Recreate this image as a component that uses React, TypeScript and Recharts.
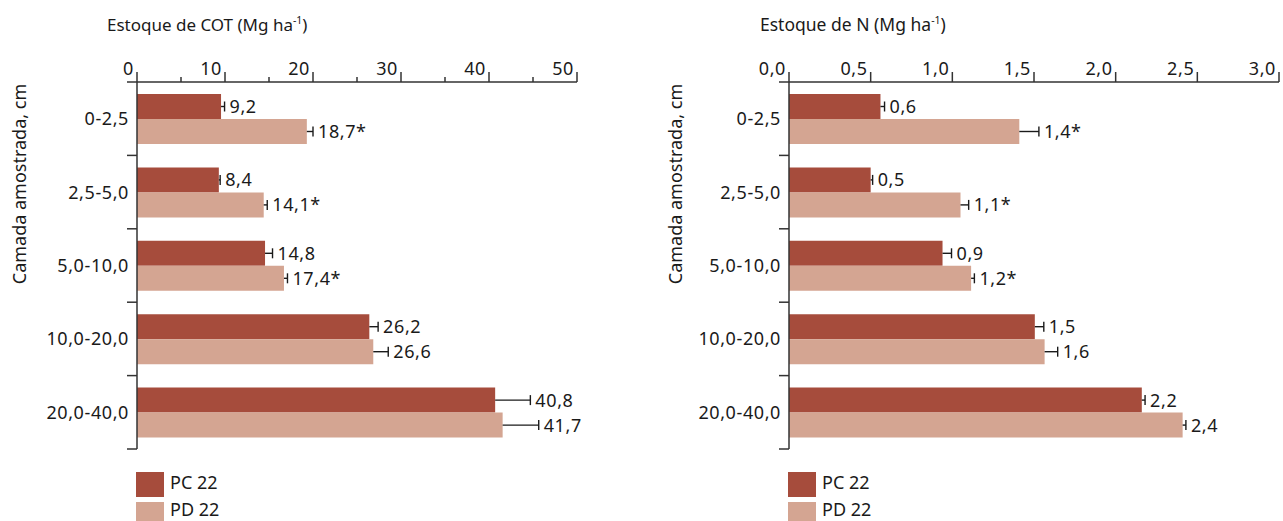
import React from 'react';
import { BarChart, Bar, XAxis, YAxis } from 'recharts';

// depth layers (sampled layer, cm)
const depths = ['0-2,5', '2,5-5,0', '5,0-10,0', '10,0-20,0', '20,0-40,0'];

// Estoque de COT (Mg ha-1)
const cotPC = [9.55, 9.3, 14.55, 26.4, 40.7];
const cotPD = [19.3, 14.4, 16.7, 26.85, 41.55];
const cotPCErr = [0.4, 0.15, 0.85, 1.0, 4.0];
const cotPDErr = [0.7, 0.4, 0.4, 1.7, 4.1];
const cotPCLabels = ['9,2', '8,4', '14,8', '26,2', '40,8'];
const cotPDLabels = ['18,7*', '14,1*', '17,4*', '26,6', '41,7'];
const cotTicks = [0, 5, 10, 15, 20, 25, 30, 35, 40, 45, 50];

// Estoque de N (Mg ha-1)
const nPC = [0.56, 0.5, 0.94, 1.505, 2.16];
const nPD = [1.41, 1.05, 1.115, 1.565, 2.41];
const nPCErr = [0.025, 0.012, 0.055, 0.055, 0.02];
const nPDErr = [0.12, 0.05, 0.02, 0.08, 0.02];
const nPCLabels = ['0,6', '0,5', '0,9', '1,5', '2,2'];
const nPDLabels = ['1,4*', '1,1*', '1,2*', '1,6', '2,4'];
const nTicks = [0, 0.5, 1, 1.5, 2, 2.5, 3];

const PC_COLOR = '#a64c3c';
const PD_COLOR = '#d4a592';
const INK = '#1a1a1a';
const AXIS = '#333';
const FONT = '"Noto Sans", sans-serif';
const NUM_SPACING = 0.6;

const comma = (v: number, digits: number) => v.toFixed(digits).replace('.', ',');

// error whisker (right side only) + value label after it
const whiskerLabel = (errs: number[], texts: string[]) => (props: any) => {
  const { x, y, width, height, index, value } = props;
  const w = Number(width);
  const v = Number(value);
  if (!v || !w) return null;
  const ppu = w / v;
  const x0 = Number(x) + w;
  const x1 = x0 + errs[index] * ppu;
  const cy = Number(y) + Number(height) / 2;
  return (
    <g>
      <line x1={x0} x2={x1} y1={cy} y2={cy} stroke={INK} strokeWidth={1.4} />
      <line x1={x1} x2={x1} y1={cy - 5} y2={cy + 5} stroke={INK} strokeWidth={1.4} />
      <text x={x1 + 5} y={cy} dy="0.36em" fontSize={18} fill={INK} fontFamily={FONT} letterSpacing={NUM_SPACING}>
        {texts[index]}
      </text>
    </g>
  );
};

const makeXTick = (isMajor: (v: number) => boolean, fmt: (v: number) => string) => (props: any) => {
  const { x, y, payload } = props;
  const v = payload.value;
  const major = isMajor(v);
  return (
    <g>
      <line x1={x} x2={x} y1={y} y2={y - (major ? 10 : 5)} stroke={AXIS} strokeWidth={1.5} />
      {major && (
        <text x={x - 3} y={y - 7} textAnchor="end" fontSize={18} fill={INK} fontFamily={FONT} letterSpacing={NUM_SPACING}>
          {fmt(v)}
        </text>
      )}
    </g>
  );
};

const YTick = (props: any) => {
  const { x, y, payload, index } = props;
  const off = payload.offset || 36.7;
  return (
    <g>
      <line x1={x - 10} x2={x} y1={y - off} y2={y - off} stroke={AXIS} strokeWidth={1.5} />
      {index === depths.length - 1 && (
        <line x1={x - 10} x2={x} y1={y + off} y2={y + off} stroke={AXIS} strokeWidth={1.5} />
      )}
      <text x={x - 8} y={y} dy="0.36em" textAnchor="end" fontSize={18} fill={INK} fontFamily={FONT} letterSpacing={NUM_SPACING}>
        {payload.value}
      </text>
    </g>
  );
};

interface PanelProps {
  pc: number[];
  pd: number[];
  pcErr: number[];
  pdErr: number[];
  pcLabels: string[];
  pdLabels: string[];
  ticks: number[];
  domain: [number, number];
  yWidth: number;
  width: number;
  rightMargin: number;
  isMajor: (v: number) => boolean;
  fmt: (v: number) => string;
}

function Panel(p: PanelProps) {
  const data = depths.map((d, i) => ({ depth: d, pc: p.pc[i], pd: p.pd[i] }));
  return (
    <BarChart
      width={p.width}
      height={521}
      data={data}
      layout="vertical"
      barSize={25}
      barGap={0}
      margin={{ top: 52, right: p.rightMargin, bottom: 72, left: 0 }}
    >
      <XAxis
        type="number"
        orientation="top"
        domain={p.domain}
        ticks={p.ticks}
        interval={0}
        height={30}
        tickSize={0}
        tickMargin={0}
        tickLine={false}
        axisLine={{ stroke: AXIS, strokeWidth: 1.5 }}
        tick={makeXTick(p.isMajor, p.fmt)}
      />
      <YAxis
        type="category"
        dataKey="depth"
        width={p.yWidth}
        tickSize={0}
        tickMargin={0}
        tickLine={false}
        interval={0}
        axisLine={{ stroke: AXIS, strokeWidth: 1.5 }}
        tick={<YTick />}
      />
      <Bar dataKey="pc" fill={PC_COLOR} isAnimationActive={false} label={whiskerLabel(p.pcErr, p.pcLabels)} />
      <Bar dataKey="pd" fill={PD_COLOR} isAnimationActive={false} label={whiskerLabel(p.pdErr, p.pdLabels)} />
    </BarChart>
  );
}

function Overlay() {
  const txt = { fontSize: 18, fill: INK, fontFamily: FONT };
  const legend = (x: number) => (
    <g>
      <rect x={x} y={472} width={28} height={25} fill={PC_COLOR} />
      <text x={x + 34} y={489} {...txt}>PC 22</text>
      <rect x={x} y={502} width={28} height={25} fill={PD_COLOR} />
      <text x={x + 34} y={516} {...txt}>PD 22</text>
    </g>
  );
  return (
    <svg width={1283} height={521} style={{ position: 'absolute', left: 0, top: 0, pointerEvents: 'none' }}>
      <text x={107} y={31} {...txt} fontSize={17}>
        Estoque de COT (Mg ha<tspan dy={-7} fontSize={10.5}>-1</tspan>
        <tspan dy={7}>)</tspan>
      </text>
      <text x={760} y={31} {...txt} fontSize={17.5}>
        Estoque de N (Mg ha<tspan dy={-7} fontSize={10.5}>-1</tspan>
        <tspan dy={7}>)</tspan>
      </text>
      <text transform="translate(26,184) rotate(-90)" textAnchor="middle" {...txt}>
        Camada amostrada, cm
      </text>
      <text transform="translate(682,184) rotate(-90)" textAnchor="middle" {...txt}>
        Camada amostrada, cm
      </text>
      {legend(136)}
      {legend(788)}
    </svg>
  );
}

export default function App() {
  return (
    <div style={{ position: 'absolute', left: 0, top: 0, width: 1283, height: 521, background: '#fff', overflow: 'hidden' }}>
      <div style={{ position: 'absolute', left: 0, top: 0 }}>
        <Panel
          pc={cotPC}
          pd={cotPD}
          pcErr={cotPCErr}
          pdErr={cotPDErr}
          pcLabels={cotPCLabels}
          pdLabels={cotPDLabels}
          ticks={cotTicks}
          domain={[0, 50]}
          yWidth={137}
          width={640}
          rightMargin={63}
          isMajor={(v) => v % 10 === 0}
          fmt={(v) => String(v)}
        />
      </div>
      <div style={{ position: 'absolute', left: 640, top: 0 }}>
        <Panel
          pc={nPC}
          pd={nPD}
          pcErr={nPCErr}
          pdErr={nPDErr}
          pcLabels={nPCLabels}
          pdLabels={nPDLabels}
          ticks={nTicks}
          domain={[0, 3]}
          yWidth={149}
          width={643}
          rightMargin={4}
          isMajor={() => true}
          fmt={(v) => comma(v, 1)}
        />
      </div>
      <Overlay />
    </div>
  );
}
